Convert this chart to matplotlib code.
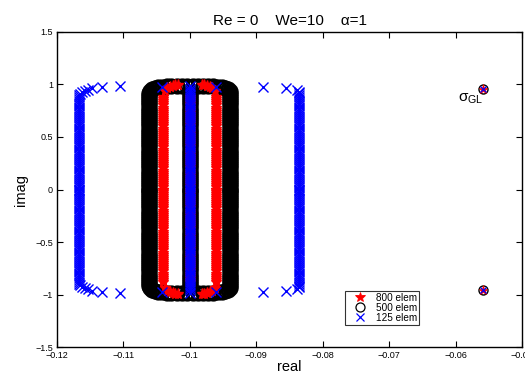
import numpy as np
import matplotlib
matplotlib.use('Agg')
import matplotlib.pyplot as plt
from matplotlib.ticker import FixedLocator, FixedFormatter
from matplotlib.lines import Line2D

plt.rcParams['font.family'] = ['Liberation Sans', 'DejaVu Sans']
plt.rcParams['mathtext.fontset'] = 'custom'
plt.rcParams['mathtext.rm'] = 'Liberation Sans'
plt.rcParams['mathtext.it'] = 'Liberation Sans'

# upper half of the dense continuous spectra (conjugates mirrored below)
imag_dense = [0.00, 0.02, 0.04, 0.06, 0.08, 0.10, 0.12, 0.14, 0.16, 0.18,
              0.20, 0.22, 0.24, 0.26, 0.28, 0.30, 0.32, 0.34, 0.36, 0.38,
              0.40, 0.42, 0.44, 0.46, 0.48, 0.50, 0.52, 0.54, 0.56, 0.58,
              0.60, 0.62, 0.64, 0.66, 0.68, 0.70, 0.72, 0.74, 0.76, 0.78,
              0.80, 0.82, 0.84, 0.86, 0.88, 0.90, 0.92]

# 800 elem
red_col_real = [-0.1041, -0.1000, -0.0961]
red_col_top = 0.88
red_tip_real = [-0.1038, -0.1034, -0.1030, -0.1026, -0.1022, -0.1018,
                -0.0982, -0.0978, -0.0974, -0.0970, -0.0966, -0.0962]
red_tip_imag = [0.94, 0.965, 0.98, 0.99, 0.995, 0.995,
                0.995, 0.995, 0.99, 0.98, 0.965, 0.94]

# 500 elem
black_col_real = [-0.1061, -0.1000, -0.0939]
black_cap_real = [-0.1060, -0.1057, -0.1053, -0.1048, -0.1042, -0.1035, -0.1028,
                  -0.1020, -0.1012, -0.1004, -0.0996, -0.0988, -0.0980, -0.0972,
                  -0.0965, -0.0958, -0.0952, -0.0947, -0.0943, -0.0940]
black_cap_imag = [0.94, 0.955, 0.965, 0.973, 0.979, 0.983, 0.985,
                  0.986, 0.986, 0.986, 0.986, 0.986, 0.986, 0.985,
                  0.983, 0.979, 0.973, 0.965, 0.955, 0.94]

# 125 elem
blue_col_real = [-0.1167, -0.1000, -0.0835]
blue_col_top = [0.90, 0.92, 0.90]
blue_tip_real = [-0.1165, -0.1162, -0.1158, -0.1153, -0.1147, -0.1132, -0.1105,
                 -0.1000, -0.1000, -0.1000, -0.1042, -0.0960,
                 -0.0835, -0.0836, -0.0838, -0.0856, -0.0890]
blue_tip_imag = [0.91, 0.925, 0.94, 0.952, 0.962, 0.972, 0.99,
                 0.94, 0.96, 0.985, 0.975, 0.975,
                 0.915, 0.93, 0.95, 0.968, 0.978]

# sigma_GL eigenvalue
gl_real = -0.0559
gl_imag = 0.957


def mirror(re, im):
    re = np.asarray(re, dtype=float)
    im = np.asarray(im, dtype=float)
    return np.concatenate([re, re]), np.concatenate([im, -im])


def columns(col_real, tops):
    re, im = [], []
    for x, t in zip(col_real, tops):
        for y in imag_dense:
            if y <= t:
                re.append(x)
                im.append(y)
    return mirror(re, im)


fig = plt.figure(figsize=(5.25, 3.76), dpi=100)
ax = fig.add_axes([0.1086, 0.077, 0.8857, 0.838])

# 500 elem (black circles)
bx, by = columns(black_col_real, [0.92] * 3)
cx, cy = mirror(black_cap_real, black_cap_imag)
ax.plot(np.concatenate([bx, cx]), np.concatenate([by, cy]), 'o', mfc='none',
        mec='black', ms=9.5, mew=2.2, zorder=2)

# 800 elem (red stars)
rx, ry = columns(red_col_real, [red_col_top] * 3)
tx, ty = mirror(red_tip_real, red_tip_imag)
ax.plot(np.concatenate([rx, tx]), np.concatenate([ry, ty]), '*', color='red',
        ms=8, mew=1.0, zorder=3)

# 125 elem (blue crosses)
ux, uy = columns(blue_col_real, blue_col_top)
vx, vy = mirror(blue_tip_real, blue_tip_imag)
ax.plot(np.concatenate([ux, vx]), np.concatenate([uy, vy]), 'x', color='blue',
        ms=6.5, mew=1.0, zorder=4)

# sigma_GL pair
gx, gy = mirror([gl_real], [gl_imag])
ax.plot(gx, gy, 'o', mfc='none', mec='black', ms=6.5, mew=1.0, zorder=5)
ax.plot(gx, gy, '*', color='red', ms=6.5, mew=0.5, zorder=6)
ax.plot(gx, gy, 'x', color='blue', ms=5, mew=0.9, zorder=7)
ax.text(-0.0597, 0.86, r'$\sigma_{GL}$', fontsize=11, ha='left', va='center')

ax.set_xlim(-0.12, -0.05)
ax.set_ylim(-1.5, 1.5)

xt = [-0.12, -0.11, -0.10, -0.09, -0.08, -0.07, -0.06, -0.05]
xl = ['\u22120.12', '\u22120.11', '\u22120.1', '\u22120.09', '\u22120.08',
      '\u22120.07', '\u22120.06', '\u22120.05']
yt = [-1.5, -1, -0.5, 0, 0.5, 1, 1.5]
yl = ['\u22121.5', '\u22121', '\u22120.5', '0', '0.5', '1', '1.5']
ax.xaxis.set_major_locator(FixedLocator(xt))
ax.xaxis.set_major_formatter(FixedFormatter(xl))
ax.yaxis.set_major_locator(FixedLocator(yt))
ax.yaxis.set_major_formatter(FixedFormatter(yl))
ax.tick_params(direction='in', length=4, width=0.8, labelsize=6.5,
               top=True, right=True, pad=3)
for s in ax.spines.values():
    s.set_linewidth(1.0)

ax.set_xlabel('real', fontsize=10.5, labelpad=0)
ax.set_ylabel('imag', fontsize=10.5, labelpad=5)
ax.set_title('Re = 0    We=10    \u03b1=1', fontsize=11, pad=5)

handles = [
    Line2D([], [], ls='none', marker='*', color='red', ms=7, mew=0.6),
    Line2D([], [], ls='none', marker='o', mfc='none', mec='black', ms=6.5, mew=0.9),
    Line2D([], [], ls='none', marker='x', color='blue', ms=5.5, mew=0.9),
]
leg = ax.legend(handles, ['800 elem', '500 elem', '125 elem'], loc='lower left',
                bbox_to_anchor=(0.619, 0.07), fontsize=7.2, frameon=True,
                fancybox=False, borderpad=0.2, labelspacing=0.0,
                handlelength=2.6, handletextpad=0.3, borderaxespad=0)
leg.get_frame().set_edgecolor('black')
leg.get_frame().set_linewidth(0.8)

fig.savefig('out.png', dpi=100)
